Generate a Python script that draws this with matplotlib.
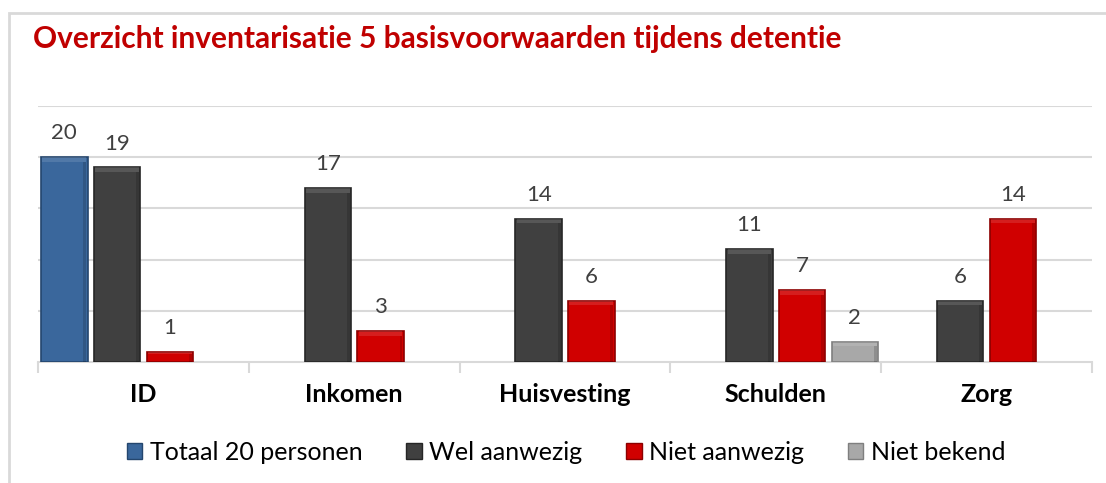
import numpy as np
import matplotlib.pyplot as plt
from matplotlib.patches import Rectangle, Patch

plt.rcParams['font.family'] = ['Lato', 'DejaVu Sans']

categories = ['ID', 'Inkomen', 'Huisvesting', 'Schulden', 'Zorg']
series_names = ['Totaal 20 personen', 'Wel aanwezig', 'Niet aanwezig', 'Niet bekend']
totaal = [20, np.nan, np.nan, np.nan, np.nan]
wel = [19, 17, 14, 11, 6]
niet = [1, 3, 6, 7, 14]
onbekend = [np.nan, np.nan, np.nan, 2, np.nan]

colors = ['#3A679C', '#404040', '#D00000', '#A8A8A8']
edges = ['#24466E', '#262626', '#8C0000', '#7F7F7F']

fig = plt.figure(figsize=(11.06, 4.83), dpi=100)
ax = fig.add_axes([38/1106, 1 - 362/483, (1092 - 38)/1106, (362 - 106)/483])

# light border around the chart area (cut off at right and bottom)
fig.patches.append(Rectangle((9/1106, -0.1), 1.2, 1 - 13/483 + 0.1, transform=fig.transFigure,
                             fill=False, edgecolor='#D9D9D9', linewidth=2))

x = np.arange(len(categories))
offsets = [-0.375, -0.125, 0.125, 0.375]
width = 0.22

for vals, c, ec, off in zip([totaal, wel, niet, onbekend], colors, edges, offsets):
    vals = np.array(vals, dtype=float)
    bars = ax.bar(x + off, np.nan_to_num(vals), width, color=c, edgecolor=ec, linewidth=1.2, zorder=3)
    for b, v in zip(bars, vals):
        if np.isnan(v):
            b.set_visible(False)
            continue
        # soft bevel: lighter top, darker right side
        h = min(0.45, v * 0.2)
        ax.add_patch(Rectangle((b.get_x() + 0.006, v - h), width - 0.012, h,
                               color='white', alpha=0.12, lw=0, zorder=4))
        ax.add_patch(Rectangle((b.get_x() + width - 0.02, 0), 0.014, v - h,
                               color='black', alpha=0.15, lw=0, zorder=4))
        ax.annotate(f'{int(v)}', (b.get_x() + width / 2, v), xytext=(0, 10), textcoords='offset points',
                    ha='center', va='bottom', fontsize=16, color='#404040')

ax.set_xlim(-0.5, 4.5)
ax.set_ylim(0, 25)
ax.set_yticks([5, 10, 15, 20, 25])
ax.yaxis.grid(True, color='#D9D9D9', linewidth=1.5, zorder=0)
ax.tick_params(axis='y', length=0, labelleft=False)
ax.set_xticks(np.arange(-0.5, 5, 1))
ax.set_xticklabels([])
ax.tick_params(axis='x', length=8, color='#D9D9D9', width=1.5)
ax.set_xticks(x, minor=True)
ax.set_xticklabels(categories, minor=True, fontsize=18, fontweight='bold')
ax.tick_params(axis='x', which='minor', length=0, pad=15)
for s in ['top', 'right', 'left']:
    ax.spines[s].set_visible(False)
ax.spines['bottom'].set_color('#D9D9D9')
ax.spines['bottom'].set_linewidth(1.5)

fig.text(33/1106, 1 - 48/483, 'Overzicht inventarisatie 5 basisvoorwaarden tijdens detentie',
         color='#C00000', fontsize=21.5, fontweight='bold', ha='left', va='baseline')

handles = [Patch(facecolor=c, edgecolor=ec, linewidth=1) for c, ec in zip(colors, edges)]
fig.legend(handles, series_names, loc='center', bbox_to_anchor=(566/1106, 1 - 452/483), ncol=4,
           frameon=False, fontsize=18, handlelength=0.62, handleheight=0.62, columnspacing=1.75,
           handletextpad=0.3)

fig.savefig('out.png', dpi=100)
